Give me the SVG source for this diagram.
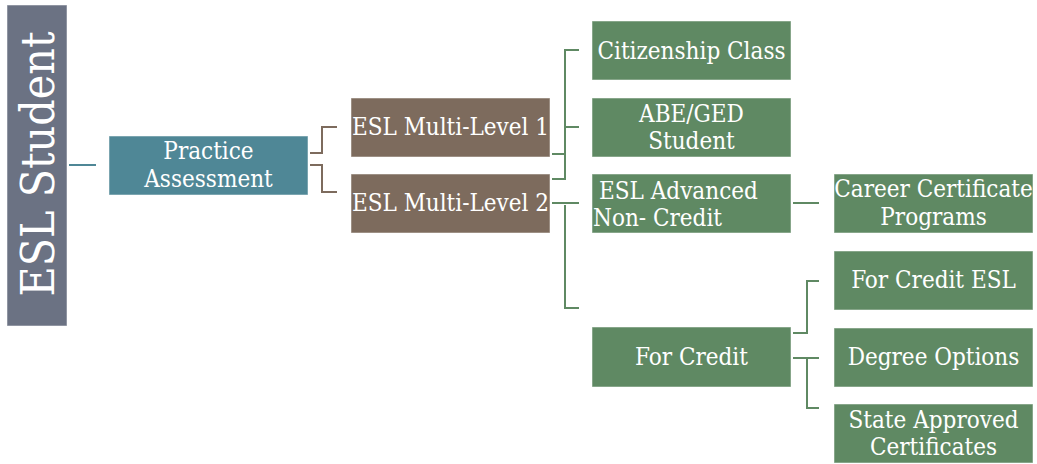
<svg xmlns="http://www.w3.org/2000/svg" width="1037" height="464" viewBox="0 0 1037 464">
<style>
.box{stroke:#ffffff;stroke-opacity:0.5;stroke-width:1}
.t{font-family:"DejaVu Serif Condensed","DejaVu Serif",serif;font-stretch:condensed;font-size:24px;fill:#ffffff;text-anchor:middle}
.ts{text-anchor:start}
.c{fill:none;stroke-width:2}
.cg{stroke:#5f8963}
.cb{stroke:#7d6b5d}
.ct{stroke:#4f8796}
</style>
<rect width="1037" height="464" fill="#ffffff"/>
<g id="connectors">
<path class="c ct" d="M69 165H96"/>
<path class="c cb" d="M310 153H322V127H337M310 165H322V192H337"/>
<path class="c cg" d="M579 50H565V179H552M565 127H579M552 154H565"/>
<path class="c cg" d="M552 203H579M565 205V308H579"/>
<path class="c cg" d="M793 203H819"/>
<path class="c cg" d="M793 333H807V281H819M793 358H819M807 358V408H819"/>
</g>
<g id="esl-student">
<rect class="box" x="7" y="5" width="60" height="321" fill="#6b7283"/>
<text class="t" transform="translate(54 164) rotate(-90)" style="font-size:46px">ESL Student</text>
</g>
<g id="practice-assessment">
<rect class="box" x="109" y="136" width="199" height="59" fill="#4f8796"/>
<text class="t" x="208.5" y="159">Practice</text>
<text class="t" x="208.5" y="187">Assessment</text>
</g>
<g id="esl-ml1">
<rect class="box" x="351" y="98" width="199" height="59" fill="#7d6b5d"/>
<text class="t" x="450.5" y="135">ESL Multi-Level 1</text>
</g>
<g id="esl-ml2">
<rect class="box" x="351" y="174" width="199" height="59" fill="#7d6b5d"/>
<text class="t" x="450.5" y="211">ESL Multi-Level 2</text>
</g>
<g id="citizenship">
<rect class="box" x="592" y="21" width="199" height="59" fill="#5f8963"/>
<text class="t" x="691.5" y="59">Citizenship Class</text>
</g>
<g id="abe-ged">
<rect class="box" x="592" y="98" width="199" height="59" fill="#5f8963"/>
<text class="t" x="691.5" y="122">ABE/GED</text>
<text class="t" x="691.5" y="149">Student</text>
</g>
<g id="esl-advanced">
<rect class="box" x="592" y="174" width="199" height="59" fill="#5f8963"/>
<text class="t ts" x="599" y="199">ESL Advanced</text>
<text class="t ts" x="593" y="226">Non- Credit</text>
</g>
<g id="for-credit">
<rect class="box" x="592" y="327" width="199" height="60" fill="#5f8963"/>
<text class="t" x="691.5" y="365">For Credit</text>
</g>
<g id="career">
<rect class="box" x="834" y="174" width="199" height="59" fill="#5f8963"/>
<text class="t" x="933.5" y="197">Career Certificate</text>
<text class="t" x="933.5" y="225">Programs</text>
</g>
<g id="for-credit-esl">
<rect class="box" x="834" y="251" width="199" height="59" fill="#5f8963"/>
<text class="t" x="933.5" y="288">For Credit ESL</text>
</g>
<g id="degree-options">
<rect class="box" x="834" y="328" width="199" height="59" fill="#5f8963"/>
<text class="t" x="933.5" y="365">Degree Options</text>
</g>
<g id="state-approved">
<rect class="box" x="834" y="404" width="199" height="59" fill="#5f8963"/>
<text class="t" x="933.5" y="428">State Approved</text>
<text class="t" x="933.5" y="455">Certificates</text>
</g>
</svg>
